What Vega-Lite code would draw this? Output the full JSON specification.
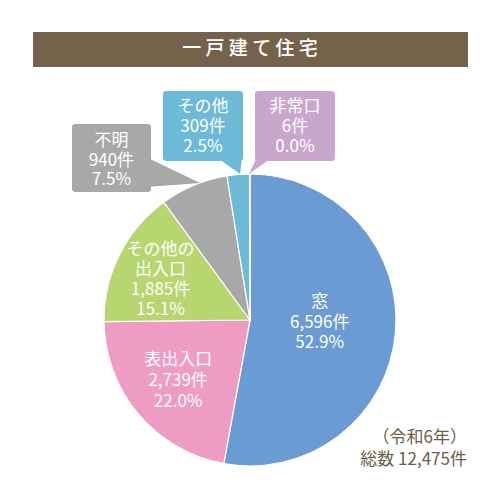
{
  "$schema": "https://vega.github.io/schema/vega-lite/v6.json",
  "description": "一戸建て住宅 侵入口別 件数",
  "width": 500,
  "height": 500,
  "autosize": {"type": "fit", "contains": "padding"},
  "padding": 0,
  "background": "white",
  "config": {
    "view": {"stroke": null},
    "text": {"font": "Noto Sans CJK JP", "lineBreak": "\n", "color": "white", "fontSize": 17, "lineHeight": 20, "baseline": "middle"}
  },
  "data": {
    "values": [
      {"rank": 1, "name": "窓", "cnt": 6596, "label": "窓\n6,596件\n52.9%"},
      {"rank": 2, "name": "表出入口", "cnt": 2739, "label": "表出入口\n2,739件\n22.0%"},
      {"rank": 3, "name": "その他の出入口", "cnt": 1885, "label": "その他の\n出入口\n1,885件\n15.1%"},
      {"rank": 4, "name": "不明", "cnt": 940, "label": "不明\n940件\n7.5%"},
      {"rank": 5, "name": "その他", "cnt": 309, "label": "その他\n309件\n2.5%"},
      {"rank": 6, "name": "非常口", "cnt": 6, "label": "非常口\n6件\n0.0%"}
    ]
  },
  "layer": [
    {
      "data": {"values": [{}]},
      "mark": {"type": "rect", "color": "#74624a"},
      "encoding": {
        "x": {"datum": -1.486, "type": "quantitative", "scale": {"domain": [-1.7123, 1.7123], "nice": false, "zero": false}, "axis": null},
        "x2": {"datum": 1.493},
        "y": {"datum": 1.973, "type": "quantitative", "scale": {"domain": [-1.2329, 2.1918], "nice": false, "zero": false}, "axis": null},
        "y2": {"datum": 1.733}
      }
    },
    {
      "data": {"values": [{"t": "一 戸 建 て 住 宅"}]},
      "mark": {"type": "text", "fontSize": 19, "fontWeight": 500},
      "encoding": {
        "x": {"datum": 0, "type": "quantitative"},
        "y": {"datum": 1.856, "type": "quantitative"},
        "text": {"field": "t"}
      }
    },
    {
      "mark": {"type": "arc", "outerRadius": 146, "stroke": "white", "strokeWidth": 1.2},
      "encoding": {
        "x": {"datum": 0, "type": "quantitative"},
        "y": {"datum": 0, "type": "quantitative"},
        "theta": {"field": "cnt", "type": "quantitative", "stack": true},
        "order": {"field": "rank", "type": "quantitative"},
        "color": {
          "field": "name",
          "type": "nominal",
          "legend": null,
          "scale": {
            "domain": ["窓", "表出入口", "その他の出入口", "不明", "その他", "非常口"],
            "range": ["#6a9bd3", "#ee9cc3", "#b7d670", "#a8a8a8", "#6cbad8", "#c9a7cd"]
          }
        }
      }
    },
    {
      "mark": {"type": "text", "radius": 70, "dy": -24, "lineHeight": 20.5},
      "encoding": {
        "x": {"datum": 0, "type": "quantitative"},
        "y": {"datum": 0, "type": "quantitative"},
        "theta": {"field": "cnt", "type": "quantitative", "stack": true},
        "order": {"field": "rank", "type": "quantitative"},
        "detail": {"field": "name", "type": "nominal"},
        "text": {"condition": {"test": "datum.name === '窓'", "field": "label"}, "value": ""}
      }
    },
    {
      "mark": {"type": "text", "radius": 94, "dy": -20.5, "lineHeight": 21},
      "encoding": {
        "x": {"datum": 0, "type": "quantitative"},
        "y": {"datum": 0, "type": "quantitative"},
        "theta": {"field": "cnt", "type": "quantitative", "stack": true},
        "order": {"field": "rank", "type": "quantitative"},
        "detail": {"field": "name", "type": "nominal"},
        "text": {"condition": {"test": "datum.name === '表出入口'", "field": "label"}, "value": ""}
      }
    },
    {
      "mark": {"type": "text", "radius": 100, "dy": -25.5, "lineHeight": 20},
      "encoding": {
        "x": {"datum": 0, "type": "quantitative"},
        "y": {"datum": 0, "type": "quantitative"},
        "theta": {"field": "cnt", "type": "quantitative", "stack": true},
        "order": {"field": "rank", "type": "quantitative"},
        "detail": {"field": "name", "type": "nominal"},
        "text": {"condition": {"test": "datum.name === 'その他の出入口'", "field": "label"}, "value": ""}
      }
    },
    {
      "data": {"values": [{}]},
      "mark": {"type": "rect", "color": "#a8a8a8", "cornerRadius": 3},
      "encoding": {
        "x": {"datum": -1.219, "type": "quantitative"},
        "x2": {"datum": -0.678},
        "y": {"datum": 1.342, "type": "quantitative"},
        "y2": {"datum": 0.877}
      }
    },
    {
      "data": {"values": [{}]},
      "mark": {"type": "point", "shape": "M0,0 L-54,-26 L-54,4 Z", "size": 4, "filled": true, "opacity": 1, "color": "#a8a8a8", "strokeWidth": 0},
      "encoding": {
        "x": {"datum": -0.342, "type": "quantitative"},
        "y": {"datum": 0.938, "type": "quantitative"}
      }
    },
    {
      "data": {"values": [{}]},
      "mark": {"type": "rect", "color": "#6cbad8", "cornerRadius": 3},
      "encoding": {
        "x": {"datum": -0.596, "type": "quantitative"},
        "x2": {"datum": -0.048},
        "y": {"datum": 1.568, "type": "quantitative"},
        "y2": {"datum": 1.089}
      }
    },
    {
      "data": {"values": [{}]},
      "mark": {"type": "point", "shape": "M0,0 L-24,-17 L2,-17 Z", "size": 4, "filled": true, "opacity": 1, "color": "#6cbad8", "strokeWidth": 0},
      "encoding": {
        "x": {"datum": -0.068, "type": "quantitative"},
        "y": {"datum": 1.0, "type": "quantitative"}
      }
    },
    {
      "data": {"values": [{}]},
      "mark": {"type": "rect", "color": "#c9a7cd", "cornerRadius": 3},
      "encoding": {
        "x": {"datum": 0.034, "type": "quantitative"},
        "x2": {"datum": 0.582},
        "y": {"datum": 1.568, "type": "quantitative"},
        "y2": {"datum": 1.089}
      }
    },
    {
      "data": {"values": [{}]},
      "mark": {"type": "point", "shape": "M0,0 L8,-17 L24,-17 Z", "size": 4, "filled": true, "opacity": 1, "color": "#c9a7cd", "strokeWidth": 0},
      "encoding": {
        "x": {"datum": -0.007, "type": "quantitative"},
        "y": {"datum": 1.0, "type": "quantitative"}
      }
    },
    {
      "transform": [{"filter": "datum.name === '不明'"}],
      "mark": {"type": "text", "lineHeight": 19.5},
      "encoding": {
        "x": {"datum": -0.949, "type": "quantitative"},
        "y": {"datum": 1.226, "type": "quantitative"},
        "text": {"field": "label"}
      }
    },
    {
      "transform": [{"filter": "datum.name === 'その他'"}],
      "mark": {"type": "text", "lineHeight": 20},
      "encoding": {
        "x": {"datum": -0.322, "type": "quantitative"},
        "y": {"datum": 1.459, "type": "quantitative"},
        "text": {"field": "label"}
      }
    },
    {
      "transform": [{"filter": "datum.name === '非常口'"}],
      "mark": {"type": "text", "lineHeight": 20},
      "encoding": {
        "x": {"datum": 0.308, "type": "quantitative"},
        "y": {"datum": 1.459, "type": "quantitative"},
        "text": {"field": "label"}
      }
    },
    {
      "data": {"values": [{"t": "（令和6年）\n総数 12,475件"}]},
      "mark": {"type": "text", "color": "#6e5c48", "fontSize": 17, "lineHeight": 22, "align": "right"},
      "encoding": {
        "x": {"datum": 1.486, "type": "quantitative"},
        "y": {"datum": -0.808, "type": "quantitative"},
        "text": {"field": "t"}
      }
    }
  ]
}
